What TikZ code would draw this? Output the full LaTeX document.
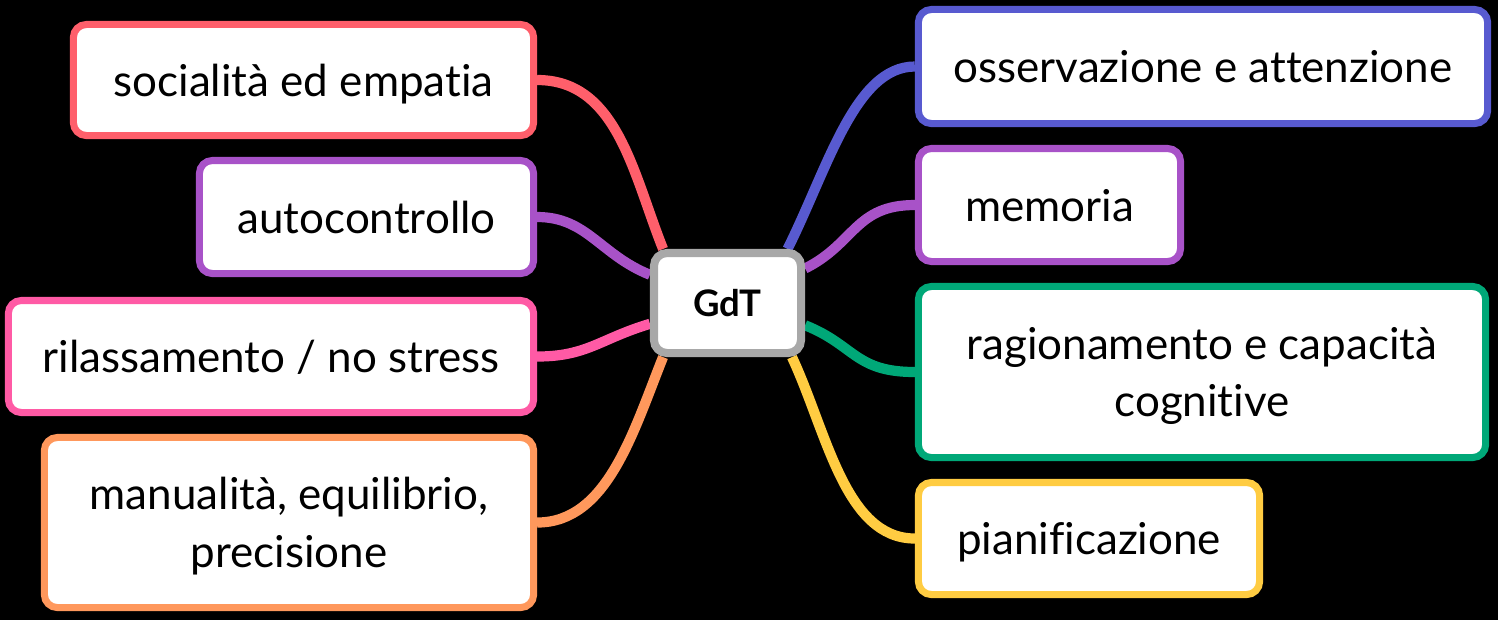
\documentclass[tikz,border=0pt]{standalone}
\usepackage{fontspec}
\setmainfont{Lato}[Ligatures=NoCommon]
\usepackage{tikz}
\usetikzlibrary{positioning,backgrounds}

\definecolor{cRed}{RGB}{255,95,107}
\definecolor{cPurple}{RGB}{168,82,200}
\definecolor{cPink}{RGB}{255,90,165}
\definecolor{cOrange}{RGB}{255,152,92}
\definecolor{cBlue}{RGB}{88,90,208}
\definecolor{cGreen}{RGB}{0,168,120}
\definecolor{cYellow}{RGB}{255,204,66}
\definecolor{cGray}{RGB}{168,168,168}

\begin{document}
\begin{tikzpicture}[x=0.01cm,y=-0.01cm,
  topic/.style={draw=#1, fill=white, line width=2pt, rounded corners=0.13cm,
    align=center, inner sep=0pt, text depth=0pt, font=\fontsize{12.5}{16.4}\selectfont},
  core/.style={draw=cGray, fill=white, line width=2.3pt, rounded corners=0.13cm,
    minimum width=1.47cm, minimum height=1.00cm,
    font=\fontsize{10.4}{12}\selectfont\bfseries},
  branch/.style={draw=#1, line width=2.9pt}]

  % centre
  \node[core] (gdt) at (727.5,303) {GdT};

  % left side
  \node[topic=cRed, minimum width=4.60cm, minimum height=1.11cm] (soc) at (303.5,80) {socialità ed empatia};
  \node[topic=cPurple, minimum width=3.34cm, minimum height=1.13cm] (auto) at (366.5,217) {autocontrollo};
  \node[topic=cPink, minimum width=5.25cm, minimum height=1.12cm] (rel) at (271,356.5) {rilassamento / no stress};
  \node[topic=cOrange, minimum width=4.89cm, minimum height=1.70cm] (man) at (289,522.5) {manualità, equilibrio,\\precisione};

  % right side
  \node[topic=cBlue, minimum width=5.69cm, minimum height=1.14cm] (oss) at (1203,66.5) {osservazione e attenzione};
  \node[topic=cPurple, minimum width=2.62cm, minimum height=1.13cm] (mem) at (1049.5,205) {memoria};
  \node[topic=cGreen, minimum width=5.67cm, minimum height=1.71cm] (rag) at (1202,372) {ragionamento e capacità\\cognitive};
  \node[topic=cYellow, minimum width=3.41cm, minimum height=1.12cm] (pia) at (1089,538.5) {pianificazione};

  \begin{pgfonlayer}{background}
    \fill[black] (0,0) rectangle (1498,620);
    \draw[branch=cRed] (gdt.140) .. controls +(-30,-75) and +(80,0) .. (soc.east);
    \draw[branch=cPurple] (gdt.160) .. controls +(-50,-20) and +(50,0) .. (auto.east);
    \draw[branch=cPink] (gdt.195) .. controls +(-50,15) and +(50,0) .. (rel.east);
    \draw[branch=cOrange] (gdt.220) .. controls +(-30,75) and +(70,0) .. (man.east);
    \draw[branch=cBlue] (gdt.42) .. controls +(40,-80) and +(-60,0) .. (oss.west);
    \draw[branch=cPurple] (gdt.24) .. controls +(50,-25) and +(-60,0) .. (mem.west);
    \draw[branch=cGreen] (gdt.344) .. controls +(50,20) and +(-60,0) .. (rag.west);
    \draw[branch=cYellow] (gdt.320) .. controls +(35,75) and +(-70,0) .. (pia.west);
  \end{pgfonlayer}
\end{tikzpicture}
\end{document}
